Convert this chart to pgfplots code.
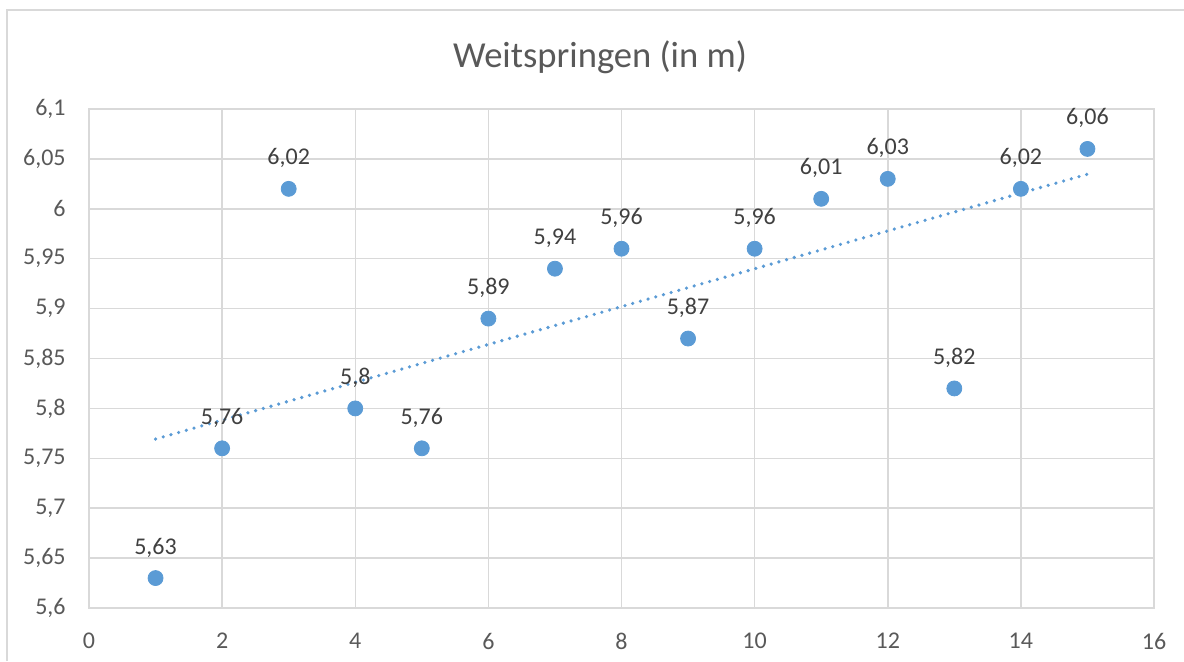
\documentclass[border=0pt]{standalone}
\usepackage{pgfplots}
\pgfplotsset{compat=1.18}
\usepackage{fontspec}
\setmainfont{Carlito}
\definecolor{gridcol}{HTML}{D9D9D9}
\definecolor{textcol}{HTML}{595959}
\definecolor{labcol}{HTML}{404040}
\definecolor{markcol}{HTML}{5B9BD5}
\begin{document}
\begin{tikzpicture}
\useasboundingbox (0,0) rectangle (592pt,330.5pt);
\draw[gridcol, line width=0.75pt] (3.5pt,0) -- (3.5pt,325.5pt) -- (592pt,325.5pt);
\node[text=textcol, font=\fontsize{18.3pt}{22pt}\selectfont, anchor=center] at (300pt,302pt) {Weitspringen (in m)};
\begin{axis}[
  at={(44.5pt,26.5pt)}, anchor=south west,
  scale only axis, width=532.5pt, height=249.5pt,
  xmin=0, xmax=16, ymin=5.6, ymax=6.1,
  xtick={0,2,4,6,8,10,12,14,16},
  xticklabels={0,2,4,6,8,10,12,14,16},
  ytick={5.6,5.65,5.7,5.75,5.8,5.85,5.9,5.95,6,6.05,6.1},
  yticklabels={{5,6},{5,65},{5,7},{5,75},{5,8},{5,85},{5,9},{5,95},{6},{6,05},{6,1}},
  grid=major,
  major grid style={draw=gridcol, line width=0.75pt},
  axis line style={draw=gridcol, line width=0.75pt},
  major tick length=0pt,
  tick label style={text=textcol, font=\fontsize{12pt}{14pt}\selectfont},
  yticklabel style={inner sep=0pt, xshift=-11.5pt},
  xticklabel style={inner sep=0pt, yshift=-12.5pt},
]
\addplot[markcol, line width=1.8pt, line cap=round, dash pattern=on 0pt off 4pt] coordinates {(1,5.7693) (15,6.0347)};
\addplot[only marks, mark=*, mark size=3.75pt, mark options={fill=markcol, draw=markcol},
  point meta=explicit symbolic, nodes near coords,
  nodes near coords style={anchor=base, yshift=12pt, inner sep=0pt, text=labcol, font=\fontsize{12pt}{14pt}\selectfont}]
  table[meta=label] {
x y label
1 5.63 {5,63}
2 5.76 {5,76}
3 6.02 {6,02}
4 5.80 {5,8}
5 5.76 {5,76}
6 5.89 {5,89}
7 5.94 {5,94}
8 5.96 {5,96}
9 5.87 {5,87}
10 5.96 {5,96}
11 6.01 {6,01}
12 6.03 {6,03}
13 5.82 {5,82}
14 6.02 {6,02}
15 6.06 {6,06}
};
\end{axis}
\end{tikzpicture}
\end{document}
